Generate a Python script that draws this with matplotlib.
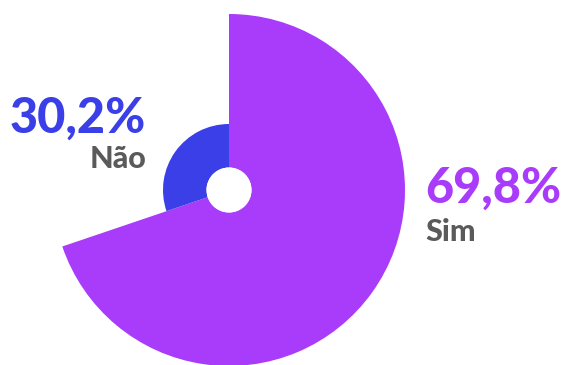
import matplotlib
matplotlib.use("Agg")
import matplotlib.pyplot as plt
from matplotlib.patches import Wedge, Circle

# ---- data ----
labels = ["Sim", "Não"]
values = [69.8, 30.2]
pct_text = ["69,8%", "30,2%"]
radii = [176, 66]          # outer radius of each slice (px)
colors = ["#A93BFA", "#3A3FE8"]

W, H = 566, 365
cx, cy = 229, H - 190
hole = 22.5

fig = plt.figure(figsize=(W / 100, H / 100), dpi=100)
ax = fig.add_axes([0, 0, 1, 1])
ax.set_xlim(0, W)
ax.set_ylim(0, H)
ax.set_aspect("equal")
ax.axis("off")

# slices go clockwise from 12 o'clock
total = sum(values)
start = 90.0
for v, r, c in zip(values, radii, colors):
    span = v / total * 360
    ax.add_patch(Wedge((cx, cy), r, start - span, start, width=r - hole,
                       facecolor=c, edgecolor="none", antialiased=True))
    start -= span
ax.add_patch(Circle((cx, cy), hole, facecolor="white", edgecolor="none"))

font = "Lato"
gray = "#5A5A5A"
# Não (left)
ax.text(146, H - 133, pct_text[1], ha="right", va="baseline", fontsize=35,
        fontweight="black", color=colors[1], family=font)
ax.text(146, H - 168, labels[1], ha="right", va="baseline", fontsize=22,
        fontweight="black", color=gray, family=font)
# Sim (right)
ax.text(425, H - 203, pct_text[0], ha="left", va="baseline", fontsize=35,
        fontweight="black", color=colors[0], family=font)
ax.text(425, H - 241, labels[0], ha="left", va="baseline", fontsize=22,
        fontweight="black", color=gray, family=font)

fig.savefig("out.png", dpi=100)
